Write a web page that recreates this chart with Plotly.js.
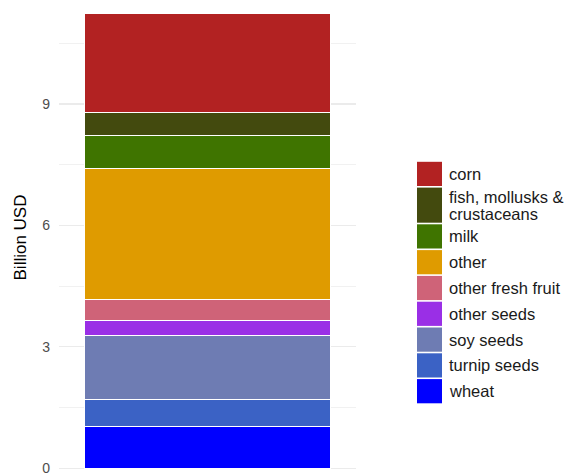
<!DOCTYPE html>
<html>
<head>
<meta charset="utf-8">
<script src="https://cdn.plot.ly/plotly-3.0.1.min.js"></script>
<style>
  html, body { margin: 0; padding: 0; background: #ffffff; }
  #chart { width: 569px; height: 475px; }
</style>
</head>
<body>
<div id="chart"></div>
<script>
// ---- data (legend order, top of stack first) ----
const categories = ["corn", "fish, mollusks & crustaceans", "milk", "other",
  "other fresh fruit", "other seeds", "soy seeds", "turnip seeds", "wheat"];
const values = [2.45, 0.56, 0.81, 3.25, 0.51, 0.38, 1.58, 0.67, 1.02];
const colors = ["#B22222", "#434A0E", "#3F7400", "#DF9B00", "#CF6378",
  "#9A2FE6", "#6E7CB3", "#3B62C5", "#0000FF"];
const yTickVals = [0, 3, 6, 9];
const yTickText = ["0", "3", "6", "9"];
const xCategory = ["all"];

// ---- geometry helpers (pixel -> paper) ----
const W = 569, H = 475;
const M = {l: 59, r: 213, t: 5, b: 5};
const PW = W - M.l - M.r, PH = H - M.t - M.b;
const px = p => (p - M.l) / PW;
const py = p => (H - M.b - p) / PH;

// ---- traces: plotly stacks first trace at bottom ----
const traces = [];
for (let i = categories.length - 1; i >= 0; i--) {
  traces.push({
    type: "bar",
    name: categories[i],
    x: xCategory,
    y: [values[i]],
    width: 0.9,
    marker: {color: colors[i], line: {color: "#ffffff", width: 1}},
    showlegend: false,
    hoverinfo: "name+y"
  });
}

// ---- manual legend (ggplot-like keys) ----
const shapes = [];
const annotations = [];
const keyX0 = 417, keyX1 = 442, textX = 447;
let keyTop = 161;
const lineH = 17;
categories.forEach((c, i) => {
  const k = c.indexOf("& ");
  const lines = k >= 0 ? [c.slice(0, k + 1), c.slice(k + 2)] : [c];
  const h = lines.length > 1 ? 36.7 : 25.8;
  shapes.push({
    type: "rect", xref: "paper", yref: "paper",
    x0: px(keyX0), x1: px(keyX1), y0: py(keyTop + h - 0.8), y1: py(keyTop + 0.8),
    fillcolor: colors[i], line: {width: 0}
  });
  const mid = keyTop + h / 2;
  lines.forEach((t, j) => {
    const yc = mid + (j - (lines.length - 1) / 2) * lineH;
    annotations.push({
      xref: "paper", yref: "paper", x: px(textX), y: py(yc),
      xanchor: "left", yanchor: "middle", showarrow: false,
      text: t, font: {family: "Liberation Sans, Arial, sans-serif", size: 16.5, color: "#1a1a1a"}
    });
  });
  keyTop += h;
});

const layout = {
  width: W, height: H,
  margin: M,
  paper_bgcolor: "#ffffff", plot_bgcolor: "#ffffff",
  barmode: "stack",
  showlegend: false,
  font: {family: "Liberation Sans, Arial, sans-serif"},
  xaxis: {
    type: "category", range: [-0.543, 0.543],
    showticklabels: false, showgrid: false, zeroline: false, showline: false, ticks: ""
  },
  yaxis: {
    range: [-0.042, 11.44],
    tickvals: yTickVals, ticktext: yTickText,
    tickfont: {size: 14, color: "#4d4d4d"},
    ticks: "", ticklabelstandoff: 8, ticklabeloverflow: "allow",
    showgrid: true, gridcolor: "#ebebeb", gridwidth: 1.4,
    minor: {dtick: 1.5, tick0: 0, showgrid: true, gridcolor: "#ebebeb", gridwidth: 0.7},
    zeroline: false, showline: false, automargin: false,
    title: {text: "Billion USD", font: {size: 17, color: "#000000"}, standoff: 11}
  },
  shapes: shapes,
  annotations: annotations
};

Plotly.newPlot("chart", traces, layout, {displayModeBar: false, staticPlot: true});
</script>
</body>
</html>
